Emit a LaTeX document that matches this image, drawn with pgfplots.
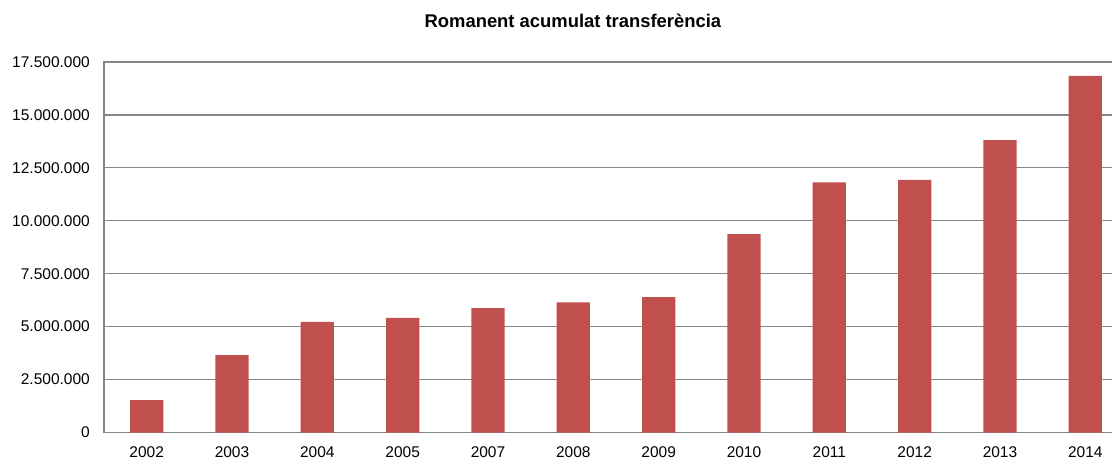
\documentclass[border=0pt]{standalone}
\usepackage{fontspec}
\setmainfont{Liberation Sans}
\usepackage{pgfplots}
\pgfplotsset{compat=1.18}
\definecolor{barred}{HTML}{C0504D}
\definecolor{gridgray}{HTML}{868686}
\begin{document}
\begin{tikzpicture}
\useasboundingbox (-104bp,-26.3bp) rectangle (1008bp,432.5bp);
\begin{axis}[
  scale only axis,
  width=1024bp, height=370.5bp,
  at={(0,0)}, anchor=south west,
  xmin=-0.5, xmax=11.5,
  ymin=0, ymax=17500000,
  ytick={0,2500000,5000000,7500000,10000000,12500000,15000000,17500000},
  scaled y ticks=false,
  xtick={0,1,2,3,4,5,6,7,8,9,10,11},
  xticklabels={2002,2003,2004,2005,2007,2008,2009,2010,2011,2012,2013,2014},
  /pgf/number format/.cd, fixed, precision=0, 1000 sep={.}, assume math mode=true,
  /pgfplots/.cd,
  major tick length=0pt,
  ymajorgrids,
  grid style={gridgray, line width=1.2bp},
  axis line style={gridgray, line width=1.2bp},
  ticklabel style={font=\fontsize{15.5bp}{18bp}\selectfont, inner sep=0pt},
  yticklabel style={anchor=east, xshift=-14bp},
  xticklabel style={anchor=north, yshift=-14bp},
  title={\textbf{Romanent acumulat transferència}},
  title style={at={(0.458,1)}, anchor=center, yshift=35bp, font=\fontsize{18.4bp}{22bp}\selectfont},
  ybar, bar width=0.39,
  clip=false,
]
\addplot[fill=barred, draw=none] coordinates {
  (0,1530000) (1,3650000) (2,5220000) (3,5420000) (4,5880000) (5,6150000)
  (6,6390000) (7,9370000) (8,11810000) (9,11930000) (10,13810000) (11,16840000)
};
\end{axis}
\end{tikzpicture}
\end{document}
